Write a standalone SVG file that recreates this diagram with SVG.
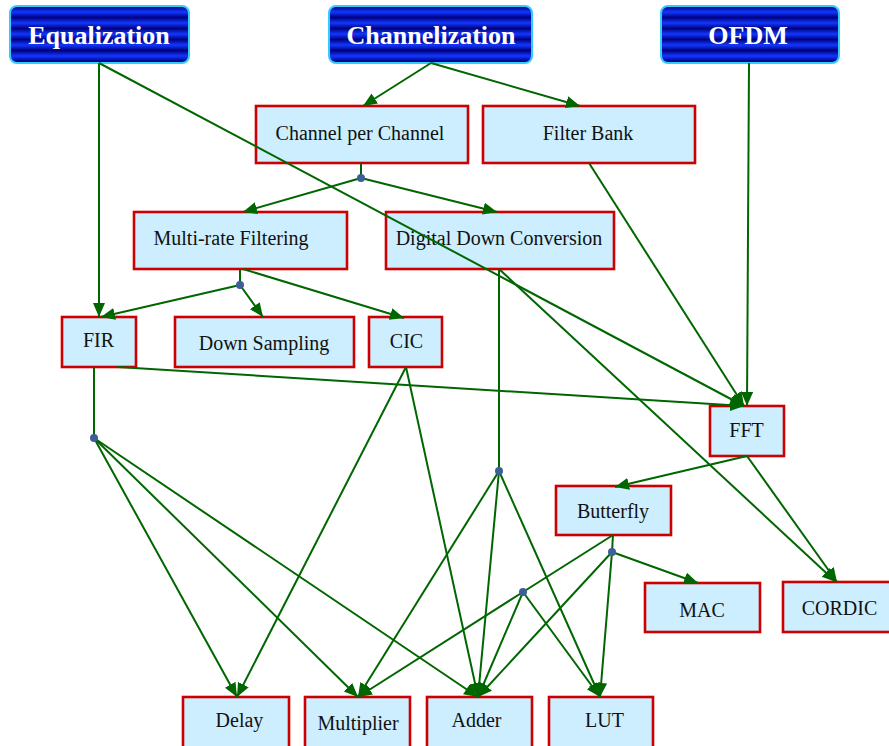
<svg xmlns="http://www.w3.org/2000/svg" width="889" height="746" viewBox="0 0 889 746">
<defs>
<linearGradient id="stripe" gradientUnits="userSpaceOnUse" x1="0" y1="1" x2="0" y2="6.5" spreadMethod="reflect">
<stop offset="0" stop-color="#1238ff"/>
<stop offset="1" stop-color="#000080"/>
</linearGradient>
<marker id="ah" markerUnits="userSpaceOnUse" markerWidth="16" markerHeight="14" refX="14" refY="6" orient="auto">
<path d="M0,0 L14,6 L0,12 z" fill="#006600"/>
</marker>
<style>
.hd rect{fill:url(#stripe);stroke:#33ccff;stroke-width:2}
.hd text{font-family:"Liberation Serif","Times New Roman",serif;font-weight:bold;font-size:26px;fill:#ffffff;text-anchor:middle}
.nd rect{fill:#cceeff;stroke:#cc0000;stroke-width:2.6}
.nd text{font-family:"Liberation Serif","Times New Roman",serif;font-size:20px;fill:#111111;text-anchor:middle}
#connectors line{stroke:#006600;stroke-width:2;fill:none}
#connectors line.a{marker-end:url(#ah)}
#connectors circle{fill:#3d5f98}
</style>
</defs>
<g id="equalization" class="hd"><rect x="10" y="6" width="179" height="57" rx="7"/><text x="99" y="44">Equalization</text></g>
<g id="channelization" class="hd"><rect x="329" y="6" width="203" height="57" rx="7"/><text x="431" y="44">Channelization</text></g>
<g id="ofdm" class="hd"><rect x="661" y="6" width="178" height="57" rx="7"/><text x="748" y="44">OFDM</text></g>
<g id="channel-per-channel" class="nd"><rect x="256" y="106" width="212" height="57"/><text x="360" y="140">Channel per Channel</text></g>
<g id="filter-bank" class="nd"><rect x="483" y="106" width="212" height="57"/><text x="588" y="140">Filter Bank</text></g>
<g id="multi-rate-filtering" class="nd"><rect x="134" y="212" width="213" height="57"/><text x="231" y="245">Multi-rate Filtering</text></g>
<g id="digital-down-conversion" class="nd"><rect x="386" y="212" width="228" height="57"/><text x="499" y="245">Digital Down Conversion</text></g>
<g id="fir" class="nd"><rect x="62" y="317" width="74" height="50"/><text x="98.5" y="347">FIR</text></g>
<g id="down-sampling" class="nd"><rect x="175" y="317" width="179" height="50"/><text x="264" y="350">Down Sampling</text></g>
<g id="cic" class="nd"><rect x="369" y="317" width="73" height="50"/><text x="406.5" y="348">CIC</text></g>
<g id="fft" class="nd"><rect x="710" y="406" width="74" height="50"/><text x="746.5" y="437">FFT</text></g>
<g id="butterfly" class="nd"><rect x="556" y="486" width="115" height="49"/><text x="613" y="518">Butterfly</text></g>
<g id="mac" class="nd"><rect x="645" y="583" width="115" height="49"/><text x="702" y="617">MAC</text></g>
<g id="cordic" class="nd"><rect x="783" y="582" width="112" height="50"/><text x="839.5" y="615">CORDIC</text></g>
<g id="delay" class="nd"><rect x="183" y="697" width="106" height="52"/><text x="239.5" y="727">Delay</text></g>
<g id="multiplier" class="nd"><rect x="305" y="697" width="105" height="52"/><text x="358" y="730">Multiplier</text></g>
<g id="adder" class="nd"><rect x="427" y="697" width="105" height="52"/><text x="476.5" y="727">Adder</text></g>
<g id="lut" class="nd"><rect x="549" y="697" width="104" height="52"/><text x="604.5" y="727">LUT</text></g>
<g id="connectors">
<line class="a" x1="99" y1="63" x2="99" y2="317"/>
<line class="a" x1="99" y1="63" x2="744" y2="406"/>
<line class="a" x1="431" y1="63" x2="363" y2="106"/>
<line class="a" x1="431" y1="63" x2="580" y2="106"/>
<line class="a" x1="749" y1="63" x2="747" y2="406"/>
<line class="a" x1="589" y1="163" x2="744" y2="406"/>
<line x1="361" y1="163" x2="361" y2="178"/>
<line class="a" x1="361" y1="178" x2="243" y2="212"/>
<line class="a" x1="361" y1="178" x2="497" y2="212"/>
<line x1="240" y1="269" x2="240" y2="285"/>
<line class="a" x1="240" y1="285" x2="101" y2="317"/>
<line class="a" x1="240" y1="285" x2="263" y2="317"/>
<line class="a" x1="243" y1="269" x2="404" y2="318"/>
<line class="a" x1="499" y1="269" x2="836" y2="582"/>
<line x1="499" y1="269" x2="499" y2="471"/>
<line class="a" x1="499" y1="471" x2="358" y2="697"/>
<line class="a" x1="499" y1="471" x2="478" y2="697"/>
<line class="a" x1="499" y1="471" x2="600" y2="697"/>
<line x1="94" y1="367" x2="94" y2="438"/>
<line class="a" x1="94" y1="438" x2="237" y2="697"/>
<line class="a" x1="94" y1="438" x2="358" y2="697"/>
<line class="a" x1="94" y1="438" x2="478" y2="697"/>
<line class="a" x1="118" y1="367" x2="744" y2="406"/>
<line class="a" x1="406" y1="367" x2="237" y2="697"/>
<line class="a" x1="406" y1="367" x2="478" y2="697"/>
<line class="a" x1="747" y1="456" x2="615" y2="487"/>
<line class="a" x1="747" y1="456" x2="837" y2="582"/>
<line x1="613" y1="535" x2="612" y2="552"/>
<line class="a" x1="612" y1="552" x2="698" y2="583"/>
<line class="a" x1="612" y1="552" x2="478" y2="697"/>
<line class="a" x1="612" y1="552" x2="600" y2="697"/>
<line x1="613" y1="535" x2="523" y2="592"/>
<line class="a" x1="523" y1="592" x2="358" y2="697"/>
<line class="a" x1="523" y1="592" x2="478" y2="697"/>
<line class="a" x1="523" y1="592" x2="600" y2="697"/>
<circle cx="361" cy="178" r="4"/>
<circle cx="240" cy="285" r="4"/>
<circle cx="499" cy="471" r="4"/>
<circle cx="94" cy="438" r="4"/>
<circle cx="612" cy="552" r="4"/>
<circle cx="523" cy="592" r="4"/>
</g>
</svg>
